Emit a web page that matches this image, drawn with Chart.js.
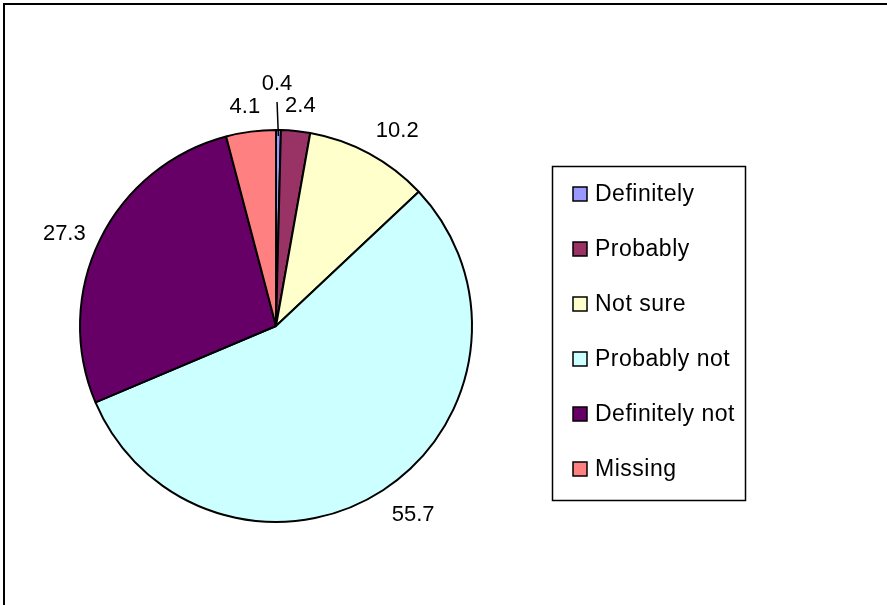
<!DOCTYPE html>
<html>
<head>
<meta charset="utf-8">
<script src="https://cdn.jsdelivr.net/npm/chart.js@4.4.1/dist/chart.umd.min.js"></script>
<style>
  body { margin: 0; background: #fff; }
  canvas { display: block; }
</style>
</head>
<body>
<canvas id="myChart" width="887" height="605"></canvas>
<script>
// data
var categories = ['Definitely', 'Probably', 'Not sure', 'Probably not', 'Definitely not', 'Missing'];
var percents = [0.4, 2.4, 10.2, 55.7, 27.3, 4.1];
var sliceColors = ['#9999FF', '#993366', '#FFFFCC', '#CCFFFF', '#660066', '#FF8080'];

var FONT = '"Liberation Sans", Arial, sans-serif';

function clamp1(t) { return Math.max(-1, Math.min(1, t)); }

// outer frame + white background
var framePlugin = {
    id: 'frame',
    beforeDraw: function(chart) {
        var c = chart.ctx;
        c.save();
        c.fillStyle = '#fff';
        c.fillRect(0, 0, chart.width, chart.height);
        c.strokeStyle = '#000';
        c.lineWidth = 2;
        c.strokeRect(4, 4, 900, 700);
        c.restore();
    }
};

// value labels outside the slices, small ones pushed out with a leader line
var labelPlugin = {
    id: 'sliceLabels',
    afterDatasetsDraw: function(chart) {
        var c = chart.ctx;
        var meta = chart.getDatasetMeta(0);
        c.save();
        c.font = '22px ' + FONT;
        c.fillStyle = '#000';
        c.textAlign = 'center';
        c.textBaseline = 'middle';
        meta.data.forEach(function(arc, i) {
            var p = arc.getProps(['x', 'y', 'startAngle', 'endAngle', 'outerRadius'], true);
            var mid = (p.startAngle + p.endAngle) / 2;
            var ux = Math.cos(mid), uy = Math.sin(mid);
            var txt = String(percents[i]);
            var w = c.measureText(txt).width, h = 20;
            var lx, ly;
            if (percents[i] < 1) {
                lx = p.x + (p.outerRadius + 47) * ux - 2;
                ly = p.y + (p.outerRadius + 47) * uy;
                c.strokeStyle = '#000';
                c.lineWidth = 1.5;
                c.beginPath();
                c.moveTo(p.x + (p.outerRadius - 6) * ux, p.y + (p.outerRadius - 6) * uy);
                c.lineTo(lx, ly + 19);
                c.stroke();
            } else {
                var d = p.outerRadius + 16;
                // sideways labels stay level with the anchor, top/bottom ones shift off it
                var fy = Math.sign(uy) * Math.max(0, Math.min(1, (Math.abs(uy) - 0.5) * 4));
                lx = p.x + d * ux + w / 2 * clamp1(2 * ux);
                ly = p.y + d * uy + h / 2 * fy;
            }
            c.fillText(txt, lx, ly + 1);
        });
        c.restore();
    }
};

// boxed legend on the right
var legendPlugin = {
    id: 'boxLegend',
    afterDraw: function(chart) {
        var c = chart.ctx;
        c.save();
        c.strokeStyle = '#000';
        c.lineWidth = 1.5;
        c.strokeRect(552.5, 166.5, 193, 334);
        c.font = '23px ' + FONT;
        c.letterSpacing = '0.5px';
        c.textAlign = 'left';
        c.textBaseline = 'middle';
        for (var i = 0; i < categories.length; i++) {
            var yc = 194 + i * 55;
            c.fillStyle = sliceColors[i];
            c.fillRect(573, yc - 7, 14, 14);
            c.lineWidth = 1.5;
            c.strokeRect(573, yc - 7, 14, 14);
            c.fillStyle = '#000';
            c.fillText(categories[i], 595, yc + 1);
        }
        c.restore();
    }
};

var ctx = document.getElementById('myChart').getContext('2d');
var myChart = new Chart(ctx, {
    type: 'pie',
    data: {
        labels: categories,
        datasets: [{
            data: percents,
            backgroundColor: sliceColors,
            borderColor: '#000',
            borderWidth: 2,
            radius: 196
        }]
    },
    options: {
        responsive: false,
        animation: false,
        layout: { padding: { left: 0, right: 335, top: 47, bottom: 0 } },
        plugins: {
            legend: { display: false },
            tooltip: { enabled: false }
        }
    },
    plugins: [framePlugin, labelPlugin, legendPlugin]
});
</script>
</body>
</html>
